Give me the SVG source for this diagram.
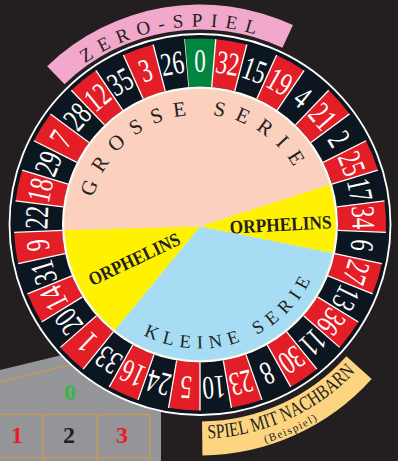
<svg xmlns="http://www.w3.org/2000/svg" width="398" height="461" viewBox="0 0 398 461">
<style>
.num{font-family:"Liberation Serif",serif;font-size:33px;fill:#fff;text-anchor:middle}
.r{fill:#e41e26}
.g{fill:#00853f}
.k{fill:#0b1621}
.sep{stroke:#fff;stroke-width:1.3;fill:none}
.lbl{font-family:"Liberation Serif",serif;fill:#231f20}
.tan{stroke:#c49a5c;stroke-width:1.5;fill:none}
.tn{font-family:"Liberation Serif",serif;font-size:24px;font-weight:bold;text-anchor:middle}
</style>
<defs>
<path id="cell" d="M184.225,39.17 A186,186 0 0 1 215.775,39.17 L211.704,87 A138,138 0 0 0 188.296,87 Z"/>
<path id="sep" d="M188.296,87 L184.225,39.17"/>
<path id="pGS" d="M90.6,236 A110,110 0 0 1 309.4,213"/>
<path id="pKS" d="M84.63,269.95 A124,124 0 0 0 318.26,187.21"/>
<path id="pZS" d="M15.78,151.93 A198,198 0 0 1 354.95,101.24"/>
<path id="pSN" d="M203.77,438.47 A214,214 0 0 0 361.5,364.9"/>
<path id="pB" d="M215.91,451.94 A228,228 0 0 0 358.39,388.5"/>
</defs>
<rect width="398" height="461" fill="#231f20"/>

<g id="table">
<polygon points="0,370 161,331 161,461 0,461" fill="#939598"/>
<path class="tan" d="M0,382 L161,343 M0,414.5 H150 M43,414.5 V461 M97,414.5 V461 M150,414.5 V461 M0,457.5 H150"/>
<text class="tn" x="70" y="400" fill="#39b54a">0</text>
<text class="tn" x="17" y="443" fill="#ed1c24">1</text>
<text class="tn" x="69" y="443" fill="#231f20">2</text>
<text class="tn" x="122" y="443" fill="#ed1c24">3</text>
</g>

<g id="zero-spiel">
<path d="M47.17,66.25 A220,220 0 0 1 292.97,25.11 L282.41,47.77 A195,195 0 0 0 64.53,84.24 Z" fill="#f2a8cb"/>
<text class="lbl" font-size="19" letter-spacing="8"><textPath href="#pZS" startOffset="50%" text-anchor="middle">ZERO-SPIEL</textPath></text>
</g>

<g id="nachbarn">
<path d="M346.39,356.31 L371.66,379.06 A231,231 0 0 1 202.42,455.49 L202.06,421.49 A197,197 0 0 0 346.39,356.31 Z" fill="#fdd580"/>
<text class="lbl" font-size="20"><textPath href="#pSN" startOffset="4" textLength="166" lengthAdjust="spacingAndGlyphs">SPIEL MIT NACHBARN</textPath></text>
<text class="lbl" font-size="11" letter-spacing="1.5"><textPath href="#pB" startOffset="50%" text-anchor="middle">(Beispiel)</textPath></text>
</g>

<g id="wheel">
<circle cx="200" cy="224.5" r="190.5" fill="#0b1621" stroke="#fff" stroke-width="1.8"/>
<g id="c0" transform="rotate(0 200 224.5)"><use href="#cell" class="g"/><use href="#sep" class="sep"/><text class="num" transform="translate(200 72) scale(0.7 1)">0</text></g>
<g id="c32" transform="rotate(9.730 200 224.5)"><use href="#cell" class="r"/><use href="#sep" class="sep"/><text class="num" transform="translate(200 72) scale(0.7 1)">32</text></g>
<g id="c15" transform="rotate(19.459 200 224.5)"><use href="#cell" class="k"/><use href="#sep" class="sep"/><text class="num" transform="translate(200 72) scale(0.7 1)">15</text></g>
<g id="c19" transform="rotate(29.189 200 224.5)"><use href="#cell" class="r"/><use href="#sep" class="sep"/><text class="num" transform="translate(200 72) scale(0.7 1)">19</text></g>
<g id="c4" transform="rotate(38.919 200 224.5)"><use href="#cell" class="k"/><use href="#sep" class="sep"/><text class="num" transform="translate(200 72) scale(0.7 1)">4</text></g>
<g id="c21" transform="rotate(48.649 200 224.5)"><use href="#cell" class="r"/><use href="#sep" class="sep"/><text class="num" transform="translate(200 72) scale(0.7 1)">21</text></g>
<g id="c2" transform="rotate(58.378 200 224.5)"><use href="#cell" class="k"/><use href="#sep" class="sep"/><text class="num" transform="translate(200 72) scale(0.7 1)">2</text></g>
<g id="c25" transform="rotate(68.108 200 224.5)"><use href="#cell" class="r"/><use href="#sep" class="sep"/><text class="num" transform="translate(200 72) scale(0.7 1)">25</text></g>
<g id="c17" transform="rotate(77.838 200 224.5)"><use href="#cell" class="k"/><use href="#sep" class="sep"/><text class="num" transform="translate(200 72) scale(0.7 1)">17</text></g>
<g id="c34" transform="rotate(87.568 200 224.5)"><use href="#cell" class="r"/><use href="#sep" class="sep"/><text class="num" transform="translate(200 72) scale(0.7 1)">34</text></g>
<g id="c6" transform="rotate(97.297 200 224.5)"><use href="#cell" class="k"/><use href="#sep" class="sep"/><text class="num" transform="translate(200 72) scale(0.7 1)">6</text></g>
<g id="c27" transform="rotate(107.027 200 224.5)"><use href="#cell" class="r"/><use href="#sep" class="sep"/><text class="num" transform="translate(200 72) scale(0.7 1)">27</text></g>
<g id="c13" transform="rotate(116.757 200 224.5)"><use href="#cell" class="k"/><use href="#sep" class="sep"/><text class="num" transform="translate(200 72) scale(0.7 1)">13</text></g>
<g id="c36" transform="rotate(126.486 200 224.5)"><use href="#cell" class="r"/><use href="#sep" class="sep"/><text class="num" transform="translate(200 72) scale(0.7 1)">36</text></g>
<g id="c11" transform="rotate(136.216 200 224.5)"><use href="#cell" class="k"/><use href="#sep" class="sep"/><text class="num" transform="translate(200 72) scale(0.7 1)">11</text></g>
<g id="c30" transform="rotate(145.946 200 224.5)"><use href="#cell" class="r"/><use href="#sep" class="sep"/><text class="num" transform="translate(200 72) scale(0.7 1)">30</text></g>
<g id="c8" transform="rotate(155.676 200 224.5)"><use href="#cell" class="k"/><use href="#sep" class="sep"/><text class="num" transform="translate(200 72) scale(0.7 1)">8</text></g>
<g id="c23" transform="rotate(165.405 200 224.5)"><use href="#cell" class="r"/><use href="#sep" class="sep"/><text class="num" transform="translate(200 72) scale(0.7 1)">23</text></g>
<g id="c10" transform="rotate(175.135 200 224.5)"><use href="#cell" class="k"/><use href="#sep" class="sep"/><text class="num" transform="translate(200 72) scale(0.7 1)">10</text></g>
<g id="c5" transform="rotate(184.865 200 224.5)"><use href="#cell" class="r"/><use href="#sep" class="sep"/><text class="num" transform="translate(200 72) scale(0.7 1)">5</text></g>
<g id="c24" transform="rotate(194.595 200 224.5)"><use href="#cell" class="k"/><use href="#sep" class="sep"/><text class="num" transform="translate(200 72) scale(0.7 1)">24</text></g>
<g id="c16" transform="rotate(204.324 200 224.5)"><use href="#cell" class="r"/><use href="#sep" class="sep"/><text class="num" transform="translate(200 72) scale(0.7 1)">16</text></g>
<g id="c33" transform="rotate(214.054 200 224.5)"><use href="#cell" class="k"/><use href="#sep" class="sep"/><text class="num" transform="translate(200 72) scale(0.7 1)">33</text></g>
<g id="c1" transform="rotate(223.784 200 224.5)"><use href="#cell" class="r"/><use href="#sep" class="sep"/><text class="num" transform="translate(200 72) scale(0.7 1)">1</text></g>
<g id="c20" transform="rotate(233.514 200 224.5)"><use href="#cell" class="k"/><use href="#sep" class="sep"/><text class="num" transform="translate(200 72) scale(0.7 1)">20</text></g>
<g id="c14" transform="rotate(243.243 200 224.5)"><use href="#cell" class="r"/><use href="#sep" class="sep"/><text class="num" transform="translate(200 72) scale(0.7 1)">14</text></g>
<g id="c31" transform="rotate(252.973 200 224.5)"><use href="#cell" class="k"/><use href="#sep" class="sep"/><text class="num" transform="translate(200 72) scale(0.7 1)">31</text></g>
<g id="c9" transform="rotate(262.703 200 224.5)"><use href="#cell" class="r"/><use href="#sep" class="sep"/><text class="num" transform="translate(200 72) scale(0.7 1)">9</text></g>
<g id="c22" transform="rotate(272.432 200 224.5)"><use href="#cell" class="k"/><use href="#sep" class="sep"/><text class="num" transform="translate(200 72) scale(0.7 1)">22</text></g>
<g id="c18" transform="rotate(282.162 200 224.5)"><use href="#cell" class="r"/><use href="#sep" class="sep"/><text class="num" transform="translate(200 72) scale(0.7 1)">18</text></g>
<g id="c29" transform="rotate(291.892 200 224.5)"><use href="#cell" class="k"/><use href="#sep" class="sep"/><text class="num" transform="translate(200 72) scale(0.7 1)">29</text></g>
<g id="c7" transform="rotate(301.622 200 224.5)"><use href="#cell" class="r"/><use href="#sep" class="sep"/><text class="num" transform="translate(200 72) scale(0.7 1)">7</text></g>
<g id="c28" transform="rotate(311.351 200 224.5)"><use href="#cell" class="k"/><use href="#sep" class="sep"/><text class="num" transform="translate(200 72) scale(0.7 1)">28</text></g>
<g id="c12" transform="rotate(321.081 200 224.5)"><use href="#cell" class="r"/><use href="#sep" class="sep"/><text class="num" transform="translate(200 72) scale(0.7 1)">12</text></g>
<g id="c35" transform="rotate(330.811 200 224.5)"><use href="#cell" class="k"/><use href="#sep" class="sep"/><text class="num" transform="translate(200 72) scale(0.7 1)">35</text></g>
<g id="c3" transform="rotate(340.541 200 224.5)"><use href="#cell" class="r"/><use href="#sep" class="sep"/><text class="num" transform="translate(200 72) scale(0.7 1)">3</text></g>
<g id="c26" transform="rotate(350.270 200 224.5)"><use href="#cell" class="k"/><use href="#sep" class="sep"/><text class="num" transform="translate(200 72) scale(0.7 1)">26</text></g>
<circle cx="200" cy="224.5" r="138" fill="#fff"/>
<circle cx="200" cy="224.5" r="136.3" fill="#f6f0c8"/>
</g>

<g id="grosse-serie">
<path d="M200,226.5 L64.62,230.25 A135.5,135.5 0 0 1 329.57,184.81 Z" fill="#fbd0bf"/>
<text class="lbl" font-size="21" letter-spacing="10.3"><textPath href="#pGS" startOffset="50%" text-anchor="middle">GROSSE SERIE</textPath></text>
</g>
<g id="orphelins-right">
<path d="M200,226.5 L329.57,184.81 A135.5,135.5 0 0 1 332.46,253.05 Z" fill="#fff200"/>
<text class="lbl" font-size="19" font-weight="bold" text-anchor="middle" textLength="102" lengthAdjust="spacingAndGlyphs" transform="translate(281 231) rotate(-3)">ORPHELINS</text>
</g>
<g id="kleine-serie">
<path d="M200,226.5 L332.46,253.05 A135.5,135.5 0 0 1 114.87,329.92 Z" fill="#a7dcf5"/>
<text class="lbl" font-size="18.5" letter-spacing="6.6"><textPath href="#pKS" startOffset="50%" text-anchor="middle">KLEINE SERIE</textPath></text>
</g>
<g id="orphelins-left">
<path d="M200,226.5 L114.87,329.92 A135.5,135.5 0 0 1 64.62,230.25 Z" fill="#fff200"/>
<text class="lbl" font-size="19" font-weight="bold" text-anchor="middle" textLength="99" lengthAdjust="spacingAndGlyphs" transform="translate(137 265) rotate(-25.5)">ORPHELINS</text>
</g>
</svg>
